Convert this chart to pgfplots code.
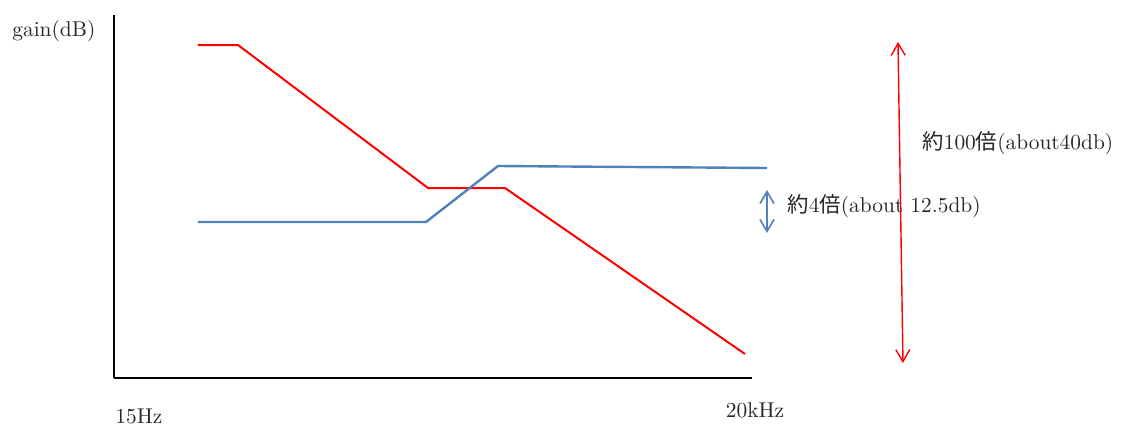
\documentclass[border=0pt]{standalone}
\usepackage{fontspec}
\newfontfamily\cjk{Noto Sans CJK JP}
\usepackage{pgfplots}
\pgfplotsset{compat=1.18}
\usetikzlibrary{arrows.meta}
\definecolor{officeblue}{RGB}{79,129,189}
\tikzset{lbl/.style={font=\fontsize{10.7}{13}\selectfont, text=black!85, inner sep=0pt}}

\begin{document}
\begin{tikzpicture}[x=1pt,y=1pt]
\begin{axis}[
    scale only axis,
    width=319pt, height=181.5pt,
    xmin=114, xmax=752, ymin=47, ymax=410,
    axis x line*=bottom, axis y line*=left,
    axis line style={black, line width=1.1pt},
    xtick=\empty, ytick=\empty,
    clip=false,
]
% red curve
\addplot[red, line width=1pt, mark=none] coordinates {
    (198,380) (238,380) (428,237) (505,237) (745,71)
};
% blue curve
\addplot[officeblue, line width=1.2pt, mark=none] coordinates {
    (198,203) (426,203) (498,259) (767,257)
};
% range arrows
\addplot[officeblue, line width=0.8pt, {Straight Barb[length=6pt,width=7pt]}-{Straight Barb[length=6pt,width=7pt]}] coordinates {
    (767,235) (767,192)
};
\addplot[red, line width=0.7pt, {Straight Barb[length=6pt,width=7pt]}-{Straight Barb[length=6pt,width=7pt]}] coordinates {
    (898,383) (903,62)
};

\node[lbl, anchor=north west] at (axis cs:12,405) {gain(dB)};
\node[lbl, anchor=north west] at (axis cs:115,17) {15Hz};
\node[lbl, anchor=base] at (axis cs:755,8) {20kHz};
\node[lbl, anchor=west] at (axis cs:787,219) {{\cjk 約}4{\cjk 倍}(about 12.5db)};
\node[lbl, anchor=west] at (axis cs:922,282) {{\cjk 約}100{\cjk 倍}(about40db)};

\coordinate (BL) at (axis cs:0,0);
\coordinate (TR) at (axis cs:1121,425);
\end{axis}
\pgfresetboundingbox
\useasboundingbox (BL) rectangle (TR);
\end{tikzpicture}
\end{document}
